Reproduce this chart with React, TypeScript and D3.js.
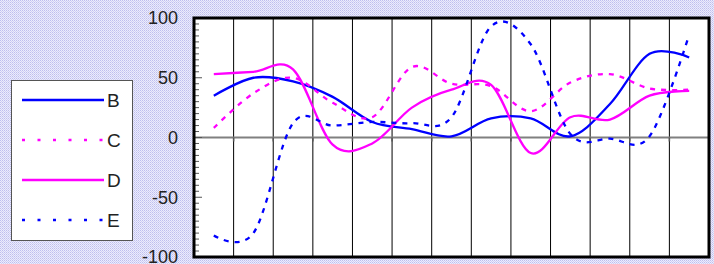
import React, { useEffect, useRef } from 'react';
import * as d3 from 'd3';

// 13 unlabeled categories along x
const categories = ['1', '2', '3', '4', '5', '6', '7', '8', '9', '10', '11', '12', '13'];

const seriesB = [35, 50, 47, 34, 13, 7, 1, 16, 16, 1, 28, 70, 67];
const seriesC = [8, 37, 50, 29, 17, 59, 45, 43, 22, 46, 53, 41, 40];
const seriesD = [53, 55, 57, -6, -5, 25, 40, 44, -13, 17, 15, 35, 39];
const seriesE = [-82, -80, 12, 10, 13, 12, 17, 93, 78, 3, -1, 1, 86];

const yTicks = [100, 50, 0, -50, -100];

const series = [
  { name: 'B', values: seriesB, color: '#0000ff', dash: null },
  { name: 'C', values: seriesC, color: '#ff00ff', dash: '5,6' },
  { name: 'D', values: seriesD, color: '#ff00ff', dash: null },
  { name: 'E', values: seriesE, color: '#0000ff', dash: '5,6' },
];

const App = () => {
  const svgRef = useRef<SVGSVGElement | null>(null);

  useEffect(() => {
    const svg = d3.select(svgRef.current);
    svg.selectAll('*').remove();

    const width = 714;
    const height = 264;
    const plot = { left: 194, right: 709, top: 18, bottom: 257 };
    const font = '"Liberation Sans", Arial, Helvetica, sans-serif';

    // dotted lavender background
    const defs = svg.append('defs');
    const pat = defs
      .append('pattern')
      .attr('id', 'bgdots')
      .attr('width', 2)
      .attr('height', 2)
      .attr('patternUnits', 'userSpaceOnUse');
    pat.append('rect').attr('width', 2).attr('height', 2).attr('fill', '#ececfc');
    pat.append('rect').attr('width', 1).attr('height', 1).attr('fill', '#bebeee');
    pat.append('rect').attr('x', 1).attr('y', 1).attr('width', 1).attr('height', 1).attr('fill', '#d0d0f4');

    svg.append('rect').attr('width', width).attr('height', height).attr('fill', 'url(#bgdots)');

    const x = d3.scaleBand().domain(categories).range([plot.left, plot.right]).paddingInner(0).paddingOuter(0);
    const xCenter = (i: number) => (x(categories[i]) as number) + x.bandwidth() / 2;
    const y = d3.scaleLinear().domain([-100, 100]).range([plot.bottom, plot.top]);

    // plot background
    svg
      .append('rect')
      .attr('x', plot.left)
      .attr('y', plot.top)
      .attr('width', plot.right - plot.left)
      .attr('height', plot.bottom - plot.top)
      .attr('fill', '#fff');

    // vertical gridlines at category boundaries
    svg
      .append('g')
      .selectAll('line')
      .data(categories.slice(1))
      .join('line')
      .attr('x1', (d) => x(d) as number)
      .attr('x2', (d) => x(d) as number)
      .attr('y1', plot.top)
      .attr('y2', plot.bottom)
      .attr('stroke', '#000')
      .attr('stroke-width', 1);

    // zero line with small ticks
    svg
      .append('line')
      .attr('x1', plot.left)
      .attr('x2', plot.right)
      .attr('y1', y(0))
      .attr('y2', y(0))
      .attr('stroke', '#808080')
      .attr('stroke-width', 2);
    svg
      .append('g')
      .selectAll('line')
      .data(categories.slice(1))
      .join('line')
      .attr('x1', (d) => x(d) as number)
      .attr('x2', (d) => x(d) as number)
      .attr('y1', y(0))
      .attr('y2', y(0) + 4)
      .attr('stroke', '#555')
      .attr('stroke-width', 1.5);

    // y minor + major ticks (inside)
    const minor = d3.range(-100, 101, 5);
    svg
      .append('g')
      .selectAll('line')
      .data(minor)
      .join('line')
      .attr('x1', plot.left)
      .attr('x2', (d) => plot.left + (d % 50 === 0 ? 8 : 5))
      .attr('y1', (d) => y(d))
      .attr('y2', (d) => y(d))
      .attr('stroke', '#555')
      .attr('stroke-width', 1);

    // y labels
    svg
      .append('g')
      .selectAll('text')
      .data(yTicks)
      .join('text')
      .attr('x', 178)
      .attr('y', (d) => y(d))
      .attr('dy', '0.36em')
      .attr('text-anchor', 'end')
      .attr('font-family', font)
      .attr('font-size', 18)
      .attr('fill', '#222')
      .text((d) => String(d));

    // series lines, smoothed like a spreadsheet chart
    const line = d3
      .line<number>()
      .x((_, i) => xCenter(i))
      .y((d) => y(d))
      .curve(d3.curveCatmullRom.alpha(0));

    series.forEach((s) => {
      const p = svg
        .append('path')
        .datum(s.values)
        .attr('fill', 'none')
        .attr('stroke', s.color)
        .attr('stroke-width', 2.3)
        .attr('d', line);
      if (s.dash) p.attr('stroke-dasharray', s.dash);
    });

    // plot border
    svg
      .append('rect')
      .attr('x', plot.left)
      .attr('y', plot.top)
      .attr('width', plot.right - plot.left)
      .attr('height', plot.bottom - plot.top)
      .attr('fill', 'none')
      .attr('stroke', '#000')
      .attr('stroke-width', 3);

    // legend
    const lg = svg.append('g');
    lg.append('rect')
      .attr('x', 11.5)
      .attr('y', 80.5)
      .attr('width', 121)
      .attr('height', 160)
      .attr('fill', '#fff')
      .attr('stroke', '#555')
      .attr('stroke-width', 1);

    const legendY = d3.scalePoint().domain(series.map((s) => s.name)).range([100, 220]);
    series.forEach((s) => {
      const yy = legendY(s.name) as number;
      const l = lg
        .append('line')
        .attr('x1', 22)
        .attr('x2', 104)
        .attr('y1', yy)
        .attr('y2', yy)
        .attr('stroke', s.color)
        .attr('stroke-width', 2.5);
      if (s.dash) l.attr('stroke-dasharray', '3,12.5');
      lg.append('text')
        .attr('x', 107)
        .attr('y', yy)
        .attr('dy', '0.36em')
        .attr('font-family', font)
        .attr('font-size', 19)
        .attr('fill', '#222')
        .text(s.name);
    });
  }, []);

  return (
    <svg
      ref={svgRef}
      width={714}
      height={264}
      style={{ position: 'absolute', left: 0, top: 0, display: 'block' }}
    ></svg>
  );
};

export default App;
